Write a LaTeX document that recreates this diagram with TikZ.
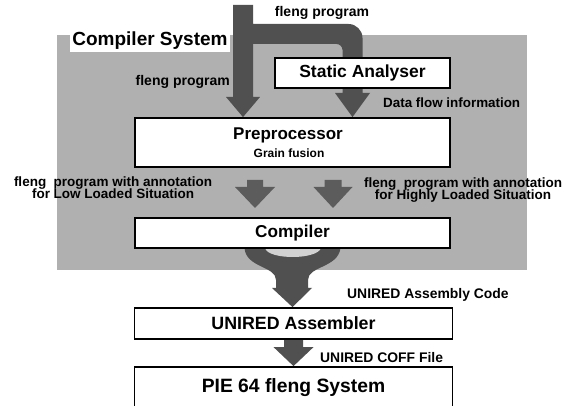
\documentclass[tikz,border=0pt]{standalone}
\usepackage{fontspec}
\setmainfont{Liberation Sans}
\usetikzlibrary{calc}
\definecolor{bgc}{RGB}{176,176,176}
\definecolor{arrc}{RGB}{80,80,80}
\definecolor{arrl}{RGB}{92,92,92}
\definecolor{innerc}{RGB}{210,210,210}
\newcommand\fsz[1]{\fontsize{#1}{#1}\selectfont}
% #1 colour, #2 tip, #3 length, #4 shaft half width, #5 head half width, #6 head length
\newcommand\fatdown[6]{%
  \fill[#1] ($(#2)+(-#4,-#3)$) -- ($(#2)+(#4,-#3)$) -- ($(#2)+(#4,-#6)$) --
    ($(#2)+(#5,-#6)$) -- (#2) -- ($(#2)+(-#5,-#6)$) -- ($(#2)+(-#4,-#6)$) -- cycle;}
\pgfdeclarelayer{back}
\pgfsetlayers{back,main}
\begin{document}
\begin{tikzpicture}[x=1pt,y=-1pt,
  box/.style={draw=black,line width=1.8pt,fill=white,inner sep=0pt},
  lab/.style={inner sep=0pt}]
\useasboundingbox (0,0) rectangle (571,406);

% boxes
\node[box,minimum width=175pt,minimum height=30pt,font={\bfseries\fsz{17.5}}] (sa) at (362.5,73) {Static Analyser};
\node[box,minimum width=315pt,minimum height=49pt] (pre) at (292.5,142.5) {};
\node[lab,font={\bfseries\fsz{17}}] (pret) at (288,135) {Preprocessor};
\node[lab,font={\bfseries\fsz{12}}] (gf) at (289,153) {Grain fusion};
\node[box,minimum width=315pt,minimum height=30pt,font={\bfseries\fsz{17.2}}] (cmp) at (292.5,233) {Compiler};
\node[box,minimum width=318pt,minimum height=31pt,font={\bfseries\fsz{17.8}}] (asm) at (293.5,323.5) {UNIRED Assembler};
\node[box,minimum width=318pt,minimum height=42pt,font={\bfseries\fsz{19.3}}] (pie) at (293.5,388) {PIE 64 fleng System};

% title
\node[lab,fill=white,inner sep=2pt,font={\bfseries\fsz{19}}] (title) at (150,41) {Compiler System};

% labels
\node[lab,font={\bfseries\fsz{14}}] (fp1) at (322,13) {fleng program};
\node[lab,anchor=east,font={\bfseries\fsz{14}}] (fp2) at (230,82) {fleng program};
\node[lab,anchor=west,font={\bfseries\fsz{13.4}}] (dfi) at (383,103) {Data flow information};
\node[lab,align=center,font={\bfseries\fsz{13.5}}] (low) at (113,188) {fleng~ program with annotation\\[-1.5pt]for Low Loaded Situation};
\node[lab,align=center,font={\bfseries\fsz{13.5}}] (high) at (463,190) {fleng~ program with annotation\\[-1pt]for Highly Loaded Situation};
\node[lab,anchor=west,font={\bfseries\fsz{13.9}}] (uac) at (347,295) {UNIRED Assembly Code};
\node[lab,anchor=west,font={\bfseries\fsz{13.9}}] (ucf) at (320,358) {UNIRED COFF File};

% connectors
\coordinate (src) at (243,5);
\coordinate (bend) at (352.5,34);
\coordinate (mt) at (src |- pre.north);
\coordinate (dt) at (bend |- pre.north);
\coordinate (lt) at (255,208);
\coordinate (rt) at (333,208);
\coordinate (ft) at (cmp.south |- asm.north);
\coordinate (pt) at (asm.south |- pie.north);

\begin{pgfonlayer}{back}
\fill[bgc] (57,35) rectangle (527,270);
% main program flow with branch to the static analyser
\fill[arrc] (233,5) -- (253,5) -- (253,24) -- (348.5,24)
  .. controls (356.2,24) and (362.5,30.3) .. (362.5,38)
  -- (362.5,93) -- (370,93) -- (dt) -- (335,93) -- (342.5,93)
  -- (342.5,50) .. controls (342.5,46.7) and (339.8,44) .. (336.5,44)
  -- (253,44) -- (253,97) -- (260,97) -- (mt) -- (226,97) -- (233,97) -- cycle;
% annotated program arrows
\fatdown{arrl}{lt}{28}{8}{20}{21}
\fatdown{arrl}{rt}{28}{8.5}{19.5}{21}
% compiler output funnel
\fill[arrc] (244.5,248) .. controls (246,268) and (276,266) .. (276,280)
  -- (276,288) -- (272,288) -- (ft) -- (312,288) -- (308,288) -- (308,280)
  .. controls (308,266) and (338,268) .. (340.5,248) -- cycle;
\fill[innerc] (265,248) .. controls (268,260) and (317,260) .. (321,248) -- cycle;
% assembler to system
\fatdown{arrc}{pt}{28}{9.5}{20}{19}
\end{pgfonlayer}
\end{tikzpicture}
\end{document}
